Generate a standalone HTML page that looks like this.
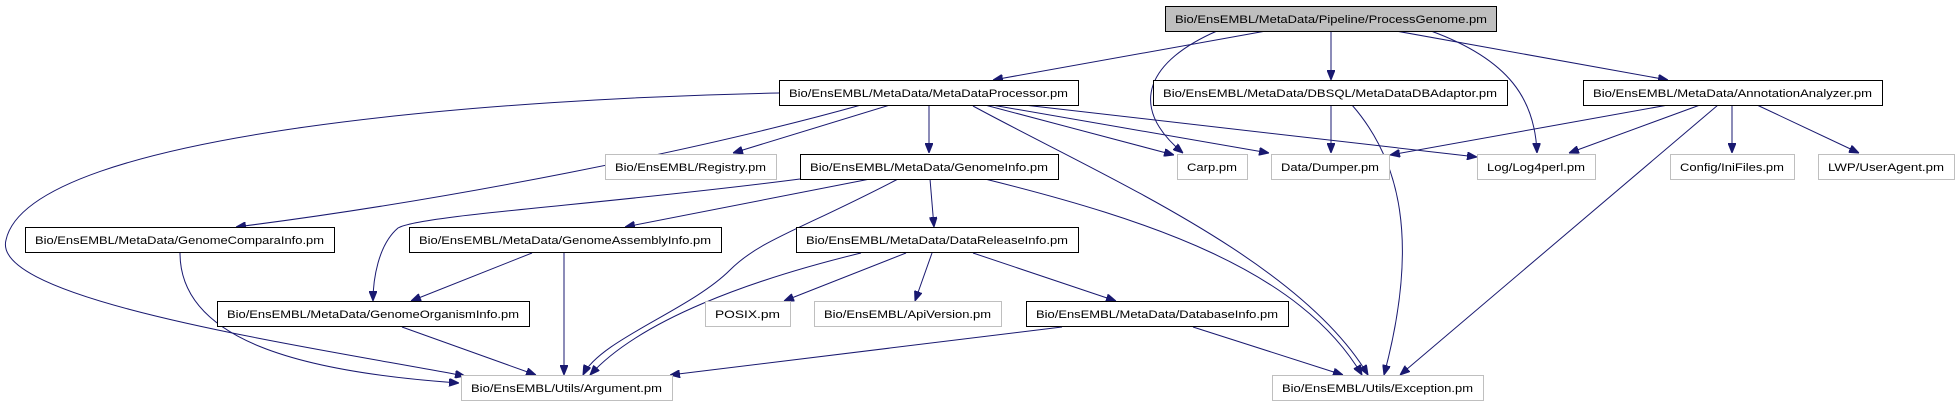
<!DOCTYPE html>
<html><head><meta charset="utf-8"><style>
html,body{margin:0;padding:0;background:#fff;}
svg{display:block;}
text{font-family:"Liberation Sans",sans-serif;font-size:11px;fill:#000;}
</style></head><body>
<svg width="1959" height="411" viewBox="0 0 1959 411" xmlns="http://www.w3.org/2000/svg">
<defs>
<marker id="a" viewBox="0 0 10 8" refX="10" refY="4" markerWidth="10" markerHeight="8" markerUnits="userSpaceOnUse" orient="auto">
<path d="M0,0 L10,4 L0,8 Z" fill="#191970" stroke="#191970"/>
</marker>
</defs>
<g fill="none" stroke="#191970" stroke-width="1" marker-end="url(#a)">
<path d="M1266,31 L993,80"/>
<path d="M1217,31 C1150,60 1125,105 1183,153"/>
<path d="M1331,31 L1331,80"/>
<path d="M1431,31 C1510,60 1535,100 1537,153"/>
<path d="M1396,31 L1668,80"/>
<path d="M779,93 C520,98 30,130 6,240 C-10,300 300,345 465,376"/>
<path d="M861,105 C700,150 450,200 236,227"/>
<path d="M890,105 L733,153"/>
<path d="M929,105 L929,153"/>
<path d="M973,106 C1100,175 1300,260 1368,375"/>
<path d="M985,105 L1174,155"/>
<path d="M992,105 L1269,153"/>
<path d="M1024,105 L1477,157"/>
<path d="M1331,105 L1331,153"/>
<path d="M1352,105 C1400,160 1420,240 1384,375"/>
<path d="M1668,105 L1390,155"/>
<path d="M1700,105 L1569,153"/>
<path d="M1718,105 L1400,375"/>
<path d="M1732,105 L1732,153"/>
<path d="M1757,105 L1859,153"/>
<path d="M800,179 C600,205 420,215 398,228 C378,245 373,280 373,301"/>
<path d="M870,179 L625,227"/>
<path d="M898,179 C800,230 760,240 730,270 C690,310 600,340 583,375"/>
<path d="M930,179 L934,227"/>
<path d="M985,179 C1150,220 1300,270 1362,375"/>
<path d="M180,253 C180,340 300,372 459,383"/>
<path d="M532,253 L411,301"/>
<path d="M564,253 L564,375"/>
<path d="M861,253 C750,280 640,320 590,375"/>
<path d="M906,253 L784,301"/>
<path d="M932,253 L915,301"/>
<path d="M973,253 L1116,301"/>
<path d="M1062,327 L670,375"/>
<path d="M1193,327 L1343,375"/>
<path d="M402,327 L536,375"/>
</g>
<g stroke-width="1">
<rect x="1165.5" y="6.5" width="331" height="25" fill="#bfbfbf" stroke="#000"/>
<rect x="779.5" y="80.5" width="299" height="25" fill="#fff" stroke="#000"/>
<rect x="1153.5" y="80.5" width="354" height="25" fill="#fff" stroke="#000"/>
<rect x="1583.5" y="80.5" width="299" height="25" fill="#fff" stroke="#000"/>
<rect x="605.5" y="154.5" width="171" height="25" fill="#fff" stroke="#bfbfbf"/>
<rect x="800.5" y="154.5" width="258" height="25" fill="#fff" stroke="#000"/>
<rect x="1177.5" y="154.5" width="70" height="25" fill="#fff" stroke="#bfbfbf"/>
<rect x="1271.5" y="154.5" width="118" height="25" fill="#fff" stroke="#bfbfbf"/>
<rect x="1477.5" y="154.5" width="118" height="25" fill="#fff" stroke="#bfbfbf"/>
<rect x="1670.5" y="154.5" width="124" height="25" fill="#fff" stroke="#bfbfbf"/>
<rect x="1818.5" y="154.5" width="136" height="25" fill="#fff" stroke="#bfbfbf"/>
<rect x="25.5" y="227.5" width="309" height="25" fill="#fff" stroke="#000"/>
<rect x="409.5" y="227.5" width="312" height="25" fill="#fff" stroke="#000"/>
<rect x="796.5" y="227.5" width="282" height="25" fill="#fff" stroke="#000"/>
<rect x="217.5" y="301.5" width="312" height="25" fill="#fff" stroke="#000"/>
<rect x="705.5" y="301.5" width="85" height="25" fill="#fff" stroke="#bfbfbf"/>
<rect x="814.5" y="301.5" width="187" height="25" fill="#fff" stroke="#bfbfbf"/>
<rect x="1026.5" y="301.5" width="262" height="25" fill="#fff" stroke="#000"/>
<rect x="461.5" y="375.5" width="211" height="25" fill="#fff" stroke="#bfbfbf"/>
<rect x="1272.5" y="375.5" width="211" height="25" fill="#fff" stroke="#bfbfbf"/>
</g>
<g>
<text x="1175" y="23" textLength="312" lengthAdjust="spacingAndGlyphs">Bio/EnsEMBL/MetaData/Pipeline/ProcessGenome.pm</text>
<text x="789" y="97" textLength="279" lengthAdjust="spacingAndGlyphs">Bio/EnsEMBL/MetaData/MetaDataProcessor.pm</text>
<text x="1163" y="97" textLength="334" lengthAdjust="spacingAndGlyphs">Bio/EnsEMBL/MetaData/DBSQL/MetaDataDBAdaptor.pm</text>
<text x="1593" y="97" textLength="279" lengthAdjust="spacingAndGlyphs">Bio/EnsEMBL/MetaData/AnnotationAnalyzer.pm</text>
<text x="615" y="171" textLength="151" lengthAdjust="spacingAndGlyphs" fill="#000">Bio/EnsEMBL/Registry.pm</text>
<text x="810" y="171" textLength="238" lengthAdjust="spacingAndGlyphs">Bio/EnsEMBL/MetaData/GenomeInfo.pm</text>
<text x="1187" y="171" textLength="50" lengthAdjust="spacingAndGlyphs">Carp.pm</text>
<text x="1281" y="171" textLength="98" lengthAdjust="spacingAndGlyphs">Data/Dumper.pm</text>
<text x="1487" y="171" textLength="98" lengthAdjust="spacingAndGlyphs">Log/Log4perl.pm</text>
<text x="1680" y="171" textLength="104" lengthAdjust="spacingAndGlyphs">Config/IniFiles.pm</text>
<text x="1828" y="171" textLength="116" lengthAdjust="spacingAndGlyphs">LWP/UserAgent.pm</text>
<text x="35" y="244" textLength="289" lengthAdjust="spacingAndGlyphs">Bio/EnsEMBL/MetaData/GenomeComparaInfo.pm</text>
<text x="419" y="244" textLength="292" lengthAdjust="spacingAndGlyphs">Bio/EnsEMBL/MetaData/GenomeAssemblyInfo.pm</text>
<text x="806" y="244" textLength="262" lengthAdjust="spacingAndGlyphs">Bio/EnsEMBL/MetaData/DataReleaseInfo.pm</text>
<text x="227" y="318" textLength="292" lengthAdjust="spacingAndGlyphs">Bio/EnsEMBL/MetaData/GenomeOrganismInfo.pm</text>
<text x="715" y="318" textLength="65" lengthAdjust="spacingAndGlyphs">POSIX.pm</text>
<text x="824" y="318" textLength="167" lengthAdjust="spacingAndGlyphs">Bio/EnsEMBL/ApiVersion.pm</text>
<text x="1036" y="318" textLength="242" lengthAdjust="spacingAndGlyphs">Bio/EnsEMBL/MetaData/DatabaseInfo.pm</text>
<text x="471" y="392" textLength="191" lengthAdjust="spacingAndGlyphs">Bio/EnsEMBL/Utils/Argument.pm</text>
<text x="1282" y="392" textLength="191" lengthAdjust="spacingAndGlyphs">Bio/EnsEMBL/Utils/Exception.pm</text>
</g>
</svg>
</body></html>
